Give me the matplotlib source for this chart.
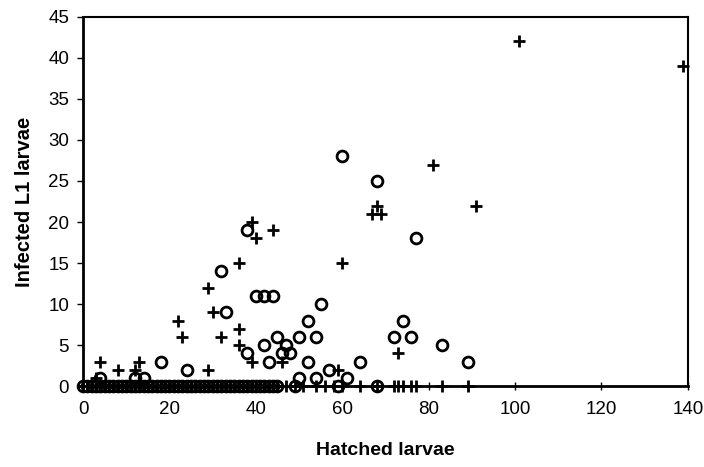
import matplotlib
matplotlib.use('Agg')
import matplotlib.pyplot as plt

plt.rcParams['font.family'] = ['Liberation Sans', 'DejaVu Sans']

# circles: infected L1 larvae vs hatched larvae (series 1)
circ_x = [60, 68, 38, 77, 32, 40, 42, 44, 55, 33, 52, 74, 45, 50, 54, 72, 76,
          42, 47, 83, 38, 46, 48, 18, 43, 52, 64, 89, 24, 57, 4, 12, 14, 50, 54, 61]
circ_y = [28, 25, 19, 18, 14, 11, 11, 11, 10, 9, 8, 8, 6, 6, 6, 6, 6,
          5, 5, 5, 4, 4, 4, 3, 3, 3, 3, 3, 2, 2, 1, 1, 1, 1, 1, 1]
circ_zero_x = [0, 1, 2, 3, 4, 5, 6, 7, 8, 9, 10, 11, 12, 13, 14, 15, 16, 17, 18,
               19, 20, 21, 22, 23, 24, 25, 26, 27, 28, 29, 30, 31, 32, 33, 34,
               35, 36, 37, 38, 39, 40, 41, 42, 43, 44, 45, 49, 59, 68]

# pluses (series 2)
plus_x = [101, 139, 81, 91, 68, 67, 69, 39, 44, 40, 36, 60, 29, 30, 22, 36,
          23, 32, 36, 73, 4, 13, 39, 46, 8, 29, 59, 12, 3]
plus_y = [42, 39, 27, 22, 22, 21, 21, 20, 19, 18, 15, 15, 12, 9, 8, 7,
          6, 6, 5, 4, 3, 3, 3, 3, 2, 2, 2, 2, 1]
plus_zero_x = [0, 1, 2, 3, 4, 5, 6, 7, 8, 9, 10, 11, 12, 13, 14, 15, 16, 17, 18,
               19, 20, 21, 22, 23, 24, 25, 26, 27, 28, 29, 30, 31, 32, 33, 34,
               35, 36, 37, 38, 39, 40, 41, 42, 43, 44, 45, 47, 49, 51, 54, 56,
               58, 60, 64, 68, 72, 73, 74, 76, 77, 83, 89]

xticks = [0, 20, 40, 60, 80, 100, 120, 140]
yticks = [0, 5, 10, 15, 20, 25, 30, 35, 40, 45]

fig = plt.figure(figsize=(7.04, 4.67), dpi=100)
ax = fig.add_axes([0.118, 0.173, 0.859, 0.791])

circ_all_x = circ_x + circ_zero_x
circ_all_y = circ_y + [0] * len(circ_zero_x)
plus_all_x = plus_x + plus_zero_x
plus_all_y = plus_y + [0] * len(plus_zero_x)

ax.plot(plus_all_x, plus_all_y, ls='none', marker='+', ms=8.5, mew=2,
        color='black', clip_on=False, zorder=3)
ax.plot(circ_all_x, circ_all_y, ls='none', marker='o', ms=7.8, mew=2,
        mfc='none', mec='black', clip_on=False, zorder=3)

ax.set_xlim(0, 140)
ax.set_ylim(0, 45)
ax.set_xticks(xticks)
ax.set_yticks(yticks)
ax.tick_params(axis='x', direction='inout', length=6, width=1, labelsize=13.5, pad=8)
ax.tick_params(axis='y', direction='out', length=4, width=1, labelsize=13.5, pad=6)

for side in ['left', 'bottom']:
    ax.spines[side].set_linewidth(2)
for side in ['top', 'right']:
    ax.spines[side].set_linewidth(1.5)

ax.set_xlabel('Hatched larvae', fontsize=14, fontweight='bold', labelpad=17)
ax.set_ylabel('Infected L1 larvae', fontsize=14.5, fontweight='bold', labelpad=10)

fig.savefig('out.png', dpi=100)
